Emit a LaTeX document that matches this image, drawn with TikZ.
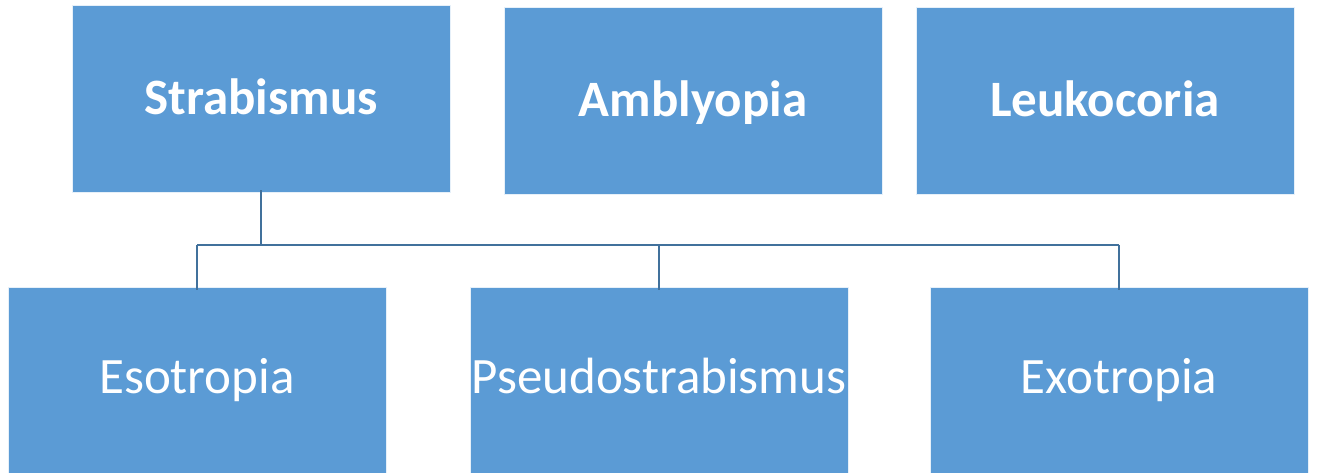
\documentclass[tikz,border=0pt]{standalone}
\usepackage{fontspec}
\setmainfont{Carlito}
\definecolor{boxblue}{HTML}{5B9BD5}
\definecolor{linkblue}{HTML}{41719C}
\begin{document}
\begin{tikzpicture}[x=1pt,y=-1pt,
  box/.style={draw=white!85!boxblue,line width=1pt,fill=boxblue,text=white,inner sep=0pt,
    minimum width=378pt,minimum height=187pt,text height=37pt,text depth=12pt,
    font=\fontsize{51}{60}\selectfont},
  topbox/.style={box,text height=38pt,text depth=8pt,font=\fontsize{51}{60}\selectfont\bfseries},
  link/.style={draw=linkblue,line width=2.5pt}]
\useasboundingbox (0,0) rectangle (1317,473);
\node[topbox] (strab) at (261,99.5) {Strabismus};
\node[topbox] (ambly) at (693,101.5) {Amblyopia};
\node[topbox] (leuko) at (1105,101.5) {Leukocoria};
\node[box] (eso) at (197,380.5) {Esotropia};
\node[box] (pseudo) at (659,380.5) {Pseudostrabismus};
\node[box] (exo) at (1119,380.5) {Exotropia};
\coordinate (bus) at (261,245);
\draw[link] ([yshift=3pt]strab.south) -- (bus);
\draw[link] (eso.north |- bus) -- (exo.north |- bus);
\draw[link] (eso.north |- bus) -- ([yshift=-3pt]eso.north);
\draw[link] (pseudo.north |- bus) -- ([yshift=-3pt]pseudo.north);
\draw[link] (exo.north |- bus) -- ([yshift=-3pt]exo.north);
\end{tikzpicture}
\end{document}
